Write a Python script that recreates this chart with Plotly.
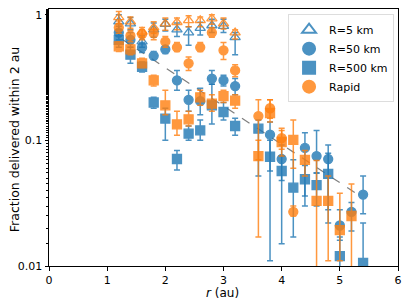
import plotly.graph_objects as go

# ---------------- data ----------------
r_tri = [1.2, 1.4, 1.6, 1.8, 2.0, 2.2, 2.4, 2.6, 2.8, 3.0, 3.2]
r_all = [1.2, 1.4, 1.6, 1.8, 2.0, 2.2, 2.4, 2.6, 2.8, 3.0, 3.2,
         3.6, 3.8, 4.0, 4.2, 4.4, 4.6, 4.8, 5.0, 5.2, 5.4]

# R=5 km (blue open triangles)
r5_y  = [0.88, 0.85, 0.61, 0.76, 0.84, 0.76, 0.72, 0.78, 0.82, 0.81, 0.66]
r5_hi = [1.00, 0.95, 0.68, 0.86, 0.92, 0.86, 0.80, 0.87, 0.92, 0.92, 0.72]
r5_lo = [0.76, 0.76, 0.55, 0.66, 0.74, 0.67, 0.57, 0.69, 0.72, 0.72, 0.48]

# Rapid, R=5 km (orange open triangles)
rp5_y  = [0.95, 0.88, 0.73, 0.79, 0.85, 0.87, 0.90, 0.90, 0.93, 0.85, 0.72]
rp5_hi = [1.06, 0.96, 0.79, 0.88, 0.94, 0.94, 0.98, 0.96, 1.00, 0.94, 0.76]
rp5_lo = [0.85, 0.78, 0.66, 0.71, 0.75, 0.76, 0.80, 0.80, 0.84, 0.77, 0.64]

# R=50 km (blue circles)
r50_y  = [0.72, 0.63, 0.55, 0.47, 0.53, 0.30, 0.21, 0.205, 0.31, 0.30, 0.27,
          None, 0.111, 0.071, None, 0.087, 0.075, 0.071, 0.021, 0.027, 0.037]
r50_hi = [0.81, 0.72, 0.60, 0.51, 0.56, 0.36, 0.25, 0.26, 0.36, 0.33, 0.31,
          None, 0.14, 0.092, None, 0.115, 0.12, 0.092, 0.028, 0.032, 0.052]
r50_lo = [0.63, 0.55, 0.50, 0.44, 0.49, 0.25, 0.17, 0.16, 0.28, 0.27, 0.23,
          None, 0.057, 0.048, None, 0.030, 0.055, 0.022, 0.016, 0.019, 0.026]

# Rapid, R=50 km (orange circles)
rp50_y  = [0.79, 0.68, 0.70, 0.71, 0.61, 0.55, 0.41, 0.55, 0.72, 0.52, 0.36,
           0.156, 0.18, 0.104, 0.027, None, None, None, None, None, None]
rp50_hi = [0.89, 0.75, 0.76, 0.78, 0.67, 0.60, 0.46, 0.60, 0.79, 0.60, 0.40,
           0.21, 0.21, 0.125, 0.030, None, None, None, None, None, None]
rp50_lo = [0.71, 0.61, 0.63, 0.63, 0.55, 0.51, 0.36, 0.51, 0.66, 0.44, 0.32,
           0.070, 0.15, 0.085, 0.025, None, None, None, None, None, None]

# R=500 km (blue squares)
r500_y  = [0.63, 0.48, 0.385, 0.20, 0.149, 0.071, 0.113, 0.12, 0.19, 0.168, 0.13,
           0.124, 0.074, 0.057, 0.042, 0.049, 0.044, 0.054, 0.012, None, 0.0106]
r500_hi = [0.72, 0.55, 0.42, 0.22, 0.18, 0.083, 0.13, 0.145, 0.28, 0.20, 0.15,
           0.145, 0.10, 0.075, 0.070, 0.063, 0.055, 0.079, 0.017, None, 0.022]
r500_lo = [0.55, 0.41, 0.35, 0.18, 0.10, 0.058, 0.10, 0.10, 0.135, 0.145, 0.11,
           0.052, 0.011, 0.015, 0.017, 0.036, 0.030, 0.028, 0.005, None, 0.005]

# Rapid, R=500 km (orange squares)
rp500_y  = [0.56, 0.53, 0.41, 0.30, 0.19, 0.134, 0.147, 0.22, 0.196, 0.225, 0.207,
            0.075, 0.165, 0.097, 0.101, 0.070, 0.033, 0.033, 0.0193, 0.025, None]
rp500_hi = [0.61, 0.58, 0.45, 0.33, 0.25, 0.17, 0.17, 0.25, 0.23, 0.25, 0.23,
            0.10, 0.21, 0.12, 0.145, 0.083, 0.069, 0.052, 0.038, 0.045, None]
rp500_lo = [0.51, 0.48, 0.38, 0.27, 0.16, 0.11, 0.13, 0.19, 0.17, 0.20, 0.18,
            0.017, 0.14, 0.075, 0.060, 0.052, 0.005, 0.011, 0.011, 0.005, None]

# dashed reference line
fit_r = [1.25, 5.35]
fit_y = [0.64, 0.036]

x_ticks = [0, 1, 2, 3, 4, 5, 6]
y_ticks = [0.01, 0.1, 1]
y_ticklabels = ["0.01", "0.1", "1"]

BLUE = "#1f77b4"
ORANGE = "#ff7f0e"


def errs(y, hi, lo):
    plus = [None if v is None else h - v for v, h in zip(y, hi)]
    minus = [None if v is None else v - l for v, l in zip(y, lo)]
    return plus, minus


def series(x, y, hi, lo, color, symbol, name, showlegend, size=9):
    plus, minus = errs(y, hi, lo)
    return go.Scatter(
        x=x, y=y, mode="markers", name=name, showlegend=showlegend,
        opacity=0.8,
        marker=dict(color=color, symbol=symbol, size=size,
                    line=dict(color=color, width=1.3)),
        error_y=dict(type="data", symmetric=False, array=plus, arrayminus=minus,
                     color=color, thickness=1.5, width=3),
    )


fig = go.Figure()
fig.add_trace(go.Scatter(x=fit_r, y=fit_y, mode="lines", showlegend=False,
                         line=dict(color="#7f7f7f", dash="dash", width=1.2)))
fig.add_trace(series(r_tri, r5_y, r5_hi, r5_lo, BLUE, "triangle-up-open", "R=5 km", True, 9))
fig.add_trace(series(r_all, r50_y, r50_hi, r50_lo, BLUE, "circle", "R=50 km", True))
fig.add_trace(series(r_all, r500_y, r500_hi, r500_lo, BLUE, "square", "R=500 km", True))
fig.add_trace(series(r_all, rp50_y, rp50_hi, rp50_lo, ORANGE, "circle", "Rapid", True))
fig.add_trace(series(r_tri, rp5_y, rp5_hi, rp5_lo, ORANGE, "triangle-up-open", "Rapid R=5 km", False, 9))
fig.add_trace(series(r_all, rp500_y, rp500_hi, rp500_lo, ORANGE, "square", "Rapid R=500 km", False))

fig.update_layout(
    width=407, height=305,
    margin=dict(l=49, r=9, t=9, b=39),
    paper_bgcolor="white", plot_bgcolor="white",
    font=dict(family="DejaVu Sans", size=11, color="black"),
    legend=dict(x=0.685, y=0.98, xanchor="left", yanchor="top",
                bgcolor="white", bordercolor="#dddddd", borderwidth=1,
                font=dict(size=11), tracegroupgap=0, itemsizing="constant"),
    annotations=[
        dict(text="Fraction delivered within 2 au", xref="paper", yref="paper",
             x=-0.10, y=0.49, xanchor="center", yanchor="middle",
             textangle=-90, showarrow=False, font=dict(size=12.5)),
        dict(text="<i>r</i> (au)", xref="paper", yref="paper",
             x=0.496, y=-0.105, xanchor="center", yanchor="middle",
             showarrow=False, font=dict(size=12)),
    ],
)
fig.update_xaxes(
    range=[0, 6], tickvals=x_ticks, automargin=False,
    ticks="outside", ticklen=3.5, tickwidth=0.8, tickcolor="black",
    showline=True, linecolor="black", linewidth=1, mirror=True,
    showgrid=False, zeroline=False,
    tickfont=dict(size=11),
)
fig.update_yaxes(
    type="log", range=[-2, 0.045], automargin=False,
    tickvals=y_ticks, ticktext=y_ticklabels,
    ticks="outside", ticklen=3.5, tickwidth=0.8, tickcolor="black",
    minor=dict(ticks="outside", ticklen=2, tickwidth=0.6, tickcolor="black",
               showgrid=False),
    showline=True, linecolor="black", linewidth=1, mirror=True,
    showgrid=False, zeroline=False,
    tickfont=dict(size=11),
)

fig.write_html("out.html", config={"displayModeBar": False})

# remove the browser's default page margin so the figure sits at (0, 0)
with open("out.html", encoding="utf-8") as f:
    html = f.read()
html = html.replace("<head>", "<head><style>html,body{margin:0;padding:0;overflow:hidden;}</style>", 1)
with open("out.html", "w", encoding="utf-8") as f:
    f.write(html)
